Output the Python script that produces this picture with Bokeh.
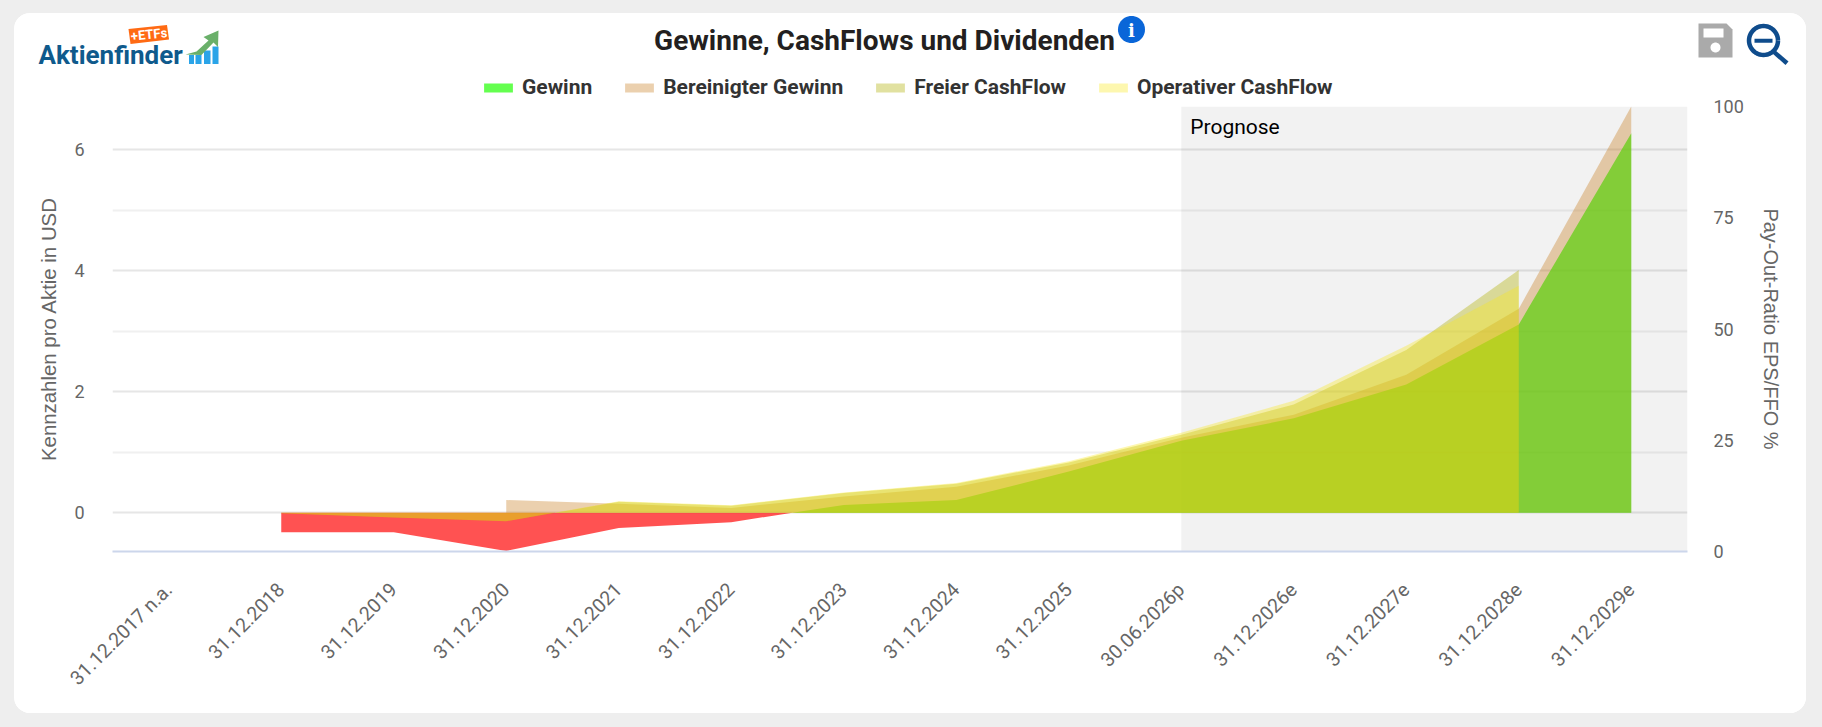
import math
import numpy as np
from bokeh.plotting import figure
from bokeh.core.properties import value
from bokeh.models import (Range1d, LinearAxis, FixedTicker, Label, Legend, LegendItem)
from bokeh.embed import file_html
from bokeh.resources import INLINE

# ---------- data ----------
categories = ["31.12.2017 n.a.", "31.12.2018", "31.12.2019", "31.12.2020", "31.12.2021",
              "31.12.2022", "31.12.2023", "31.12.2024", "31.12.2025", "30.06.2026p",
              "31.12.2026e", "31.12.2027e", "31.12.2028e", "31.12.2029e"]
gewinn = [None, -0.32, -0.32, -0.63, -0.25, -0.155, 0.13, 0.21, 0.68, 1.19, 1.56, 2.12, 3.11, 6.27]
bereinigt = [None, None, None, 0.21, 0.15, 0.08, 0.27, 0.43, 0.78, 1.24, 1.62, 2.28, 3.37, 6.71]
freier_cf = [None, -0.01, -0.08, -0.14, 0.18, 0.115, 0.325, 0.48, 0.83, 1.29, 1.79, 2.69, 4.01, None]
operativ_cf = [None, -0.01, -0.08, -0.14, 0.19, 0.125, 0.335, 0.49, 0.85, 1.32, 1.85, 2.76, 3.75, None]
left_ticks = [0, 2, 4, 6]
left_minor = [1, 3, 5]
right_ticks = [0, 25, 50, 75, 100]
forecast_start = 9

ROBOTO = "Roboto"
ARIAL = "Liberation Sans"
# card and frame geometry in page pixels
CARD_L, CARD_T, CARD_R, CARD_B = 14, 13, 1806, 713
FR_L, FR_T, FR_R, FR_B = 112, 106, 1687, 551
WIDTH = CARD_R - CARD_L
HEIGHT = CARD_B - CARD_T

GREEN = dict(fill_color="#1eff00", fill_alpha=0.69)
RED = dict(fill_color="#ff0000", fill_alpha=0.68)
TAN = dict(fill_color="#c67918", fill_alpha=0.35)
FCF = dict(fill_color="#b4b411", fill_alpha=0.4)
OCF = dict(fill_color="#f9e81a", fill_alpha=0.35)

idx = list(range(len(categories)))
# the chart lies transparent on top of the card figure below
p = figure(width=WIDTH, height=HEIGHT, output_backend="svg", toolbar_location=None,
           x_range=Range1d(-0.5, 13.5), y_range=Range1d(-0.64, 6.71),
           min_border_left=FR_L - CARD_L, min_border_right=CARD_R - FR_R,
           min_border_top=FR_T - CARD_T, min_border_bottom=CARD_B - FR_B,
           outline_line_color=None, border_fill_color=None, background_fill_color=None)
p.styles = {"position": "absolute", "left": f"{CARD_L}px", "top": f"{CARD_T}px"}

# ---------- axes ----------
xa = p.xaxis[0]
xa.ticker = FixedTicker(ticks=idx)
xa.major_label_overrides = {i: c for i, c in zip(idx, categories)}
xa.major_label_orientation = math.pi / 4
xa.major_label_text_font = ROBOTO
xa.major_label_text_font_size = "19.5px"
xa.major_label_text_color = "#666666"
xa.major_label_standoff = 35
xa.major_tick_out = 0
xa.major_tick_in = 0
xa.major_tick_line_color = None
xa.minor_tick_line_color = None
xa.axis_line_color = "#ccd6eb"
xa.axis_line_width = 2

ya = p.yaxis[0]
ya.ticker = FixedTicker(ticks=left_ticks, minor_ticks=left_minor)
ya.axis_label = "Kennzahlen pro Aktie in USD"
ya.axis_label_text_font = ARIAL
ya.axis_label_text_font_style = "normal"
ya.axis_label_text_font_size = "20.4px"
ya.axis_label_text_color = "#666666"
ya.axis_label_standoff = 11
ya.major_label_text_font = ROBOTO
ya.major_label_text_font_size = "18px"
ya.major_label_text_color = "#666666"
ya.major_label_standoff = 24
ya.major_tick_out = 0
ya.major_tick_in = 0
ya.major_tick_line_color = None
ya.minor_tick_line_color = None
ya.axis_line_color = None

p.xgrid.visible = False
p.ygrid.ticker = FixedTicker(ticks=left_ticks, minor_ticks=left_minor)
p.ygrid.grid_line_color = "#e6e6e6"
p.ygrid.grid_line_width = 2
p.ygrid.minor_grid_line_color = "#f0f0f0"
p.ygrid.minor_grid_line_width = 2

p.extra_y_ranges = {"payout": Range1d(0, 100)}
ra = LinearAxis(y_range_name="payout", ticker=FixedTicker(ticks=right_ticks))
ra.axis_label = "Pay-Out-Ratio EPS/FFO %"
ra.axis_label_text_font = ARIAL
ra.axis_label_text_font_style = "normal"
ra.axis_label_text_font_size = "20px"
ra.axis_label_text_color = "#666666"
ra.axis_label_standoff = 13
ra.major_label_text_font = ROBOTO
ra.major_label_text_font_size = "18px"
ra.major_label_text_color = "#666666"
ra.major_label_standoff = 26
ra.major_tick_out = 0
ra.major_tick_in = 0
ra.major_tick_line_color = None
ra.minor_tick_line_color = None
ra.axis_line_color = None
p.add_layout(ra, "right")

# ---------- forecast band ----------
p.quad(left=[forecast_start], right=[13.5], bottom=[-0.64], top=[6.71],
       fill_color="black", fill_alpha=0.05, line_color=None)


def valid(series):
    pts = [(i, v) for i, v in zip(idx, series) if v is not None]
    return [a for a, _ in pts], [b for _, b in pts]


def split_sign(xs, ys):
    """Insert the zero crossings so the sign parts can be coloured apart."""
    ox, oy = [], []
    for k in range(len(xs)):
        if k and ys[k - 1] * ys[k] < 0:
            f = ys[k - 1] / (ys[k - 1] - ys[k])
            ox.append(xs[k - 1] + f * (xs[k] - xs[k - 1]))
            oy.append(0.0)
        ox.append(xs[k])
        oy.append(ys[k])
    return np.array(ox, dtype=float), np.array(oy, dtype=float)


gx, gy = split_sign(*valid(gewinn))
pos = gy >= 0
neg = gy <= 0
p.varea(gx[pos], y1=0, y2=gy[pos], **GREEN)
p.varea(gx[neg], y1=0, y2=gy[neg], **RED)
bx, by = valid(bereinigt)
p.varea(bx, y1=0, y2=by, **TAN)
fx, fy = valid(freier_cf)
p.varea(fx, y1=0, y2=fy, **FCF)
ox, oy = valid(operativ_cf)
p.varea(ox, y1=0, y2=oy, **OCF)

p.add_layout(Label(x=forecast_start, y=6.71, y_offset=-20, x_offset=9, text="Prognose",
                   text_font=ROBOTO, text_font_size="21px", text_color="#000000",
                   text_baseline="middle"))

# ---------- card: logo, title, legend, icons, drawn in page pixels ----------
h = figure(width=WIDTH, height=HEIGHT, output_backend="svg", toolbar_location=None,
           x_range=Range1d(CARD_L, CARD_R), y_range=Range1d(CARD_B, CARD_T),
           x_axis_type=None, y_axis_type=None, min_border=0, outline_line_color=None,
           border_fill_color="white", background_fill_color="white")
h.styles = {"position": "absolute", "left": f"{CARD_L}px", "top": f"{CARD_T}px", "background": "white",
            "border-radius": "16px", "overflow": "hidden"}
h.grid.visible = False


def swatch(style):
    # legend key only: its area lies outside the card's visible range
    return h.varea(x=[-200, -100], y1=[0, 0], y2=[10, 10], **style)


legend = Legend(items=[LegendItem(label="Gewinn", renderers=[swatch(GREEN)]),
                       LegendItem(label="Bereinigter Gewinn", renderers=[swatch(TAN)]),
                       LegendItem(label="Freier CashFlow", renderers=[swatch(FCF)]),
                       LegendItem(label="Operativer CashFlow", renderers=[swatch(OCF)])],
                orientation="horizontal", location=(480 - CARD_L, CARD_B - 99), spacing=29, label_standoff=6,
                glyph_width=36, glyph_height=11, padding=0, margin=0,
                background_fill_alpha=0, border_line_color=None,
                label_text_font=ROBOTO, label_text_font_style="bold",
                label_text_font_size="21px", label_text_color="#333333",
                label_height=20)
h.add_layout(legend)


def text(px, py, s, size, color, font=ROBOTO, style="normal", align="left", angle=0):
    h.text([px], [py], text=[s], text_font=value(font), text_font_style=style,
           text_font_size=value(f"{size}px"), text_color=color, text_align=align,
           text_baseline="middle", angle=angle)


def poly(pts, fill):
    h.patch([a for a, _ in pts], [b for _, b in pts], fill_color=fill, line_color=None)


def circle(cx, cy, r, n=48):
    return [(cx + r * math.cos(2 * math.pi * i / n), cy + r * math.sin(2 * math.pi * i / n)) for i in range(n)]


text(884, 39.5, "Gewinne, CashFlows und Dividenden", 28, "#231f20", style="bold", align="center")

# info icon
poly(circle(1131, 29, 13.5), "#0a66d8")
text(1131, 29.5, "i", 18, "white", font="DejaVu Serif", style="bold", align="center")

# save icon
poly([(1698, 23), (1726, 23), (1732, 29), (1732, 57), (1698, 57)], "#aaaaaa")
poly([(1703, 28), (1723, 28), (1723, 37), (1703, 37)], "white")
poly(circle(1715, 47, 5), "white")

# zoom icon
ring = circle(1763, 40, 14.5)
h.line([a for a, _ in ring] + [ring[0][0]], [b for _, b in ring] + [ring[0][1]], line_color="#0f4c8c", line_width=4.5)
poly([(1754, 38.2), (1772, 38.2), (1772, 42.2), (1754, 42.2)], "#0f4c8c")
poly([(1775, 50), (1788, 61), (1785, 64.5), (1772, 53)], "#0f4c8c")

# logo
poly([(128, 28.5), (166.5, 24.5), (168.5, 39), (130, 43.5)], "#ff6a13")
text(148.5, 34, "+ETFs", 13, "white", style="bold", align="center", angle=0.1)
text(38, 54, "Aktienfinder", 26, "#0f5a8c", style="bold")
for bar in [(188.5, 54.5, 193.5), (195, 54.5, 201), (203.5, 50, 210), (212, 46, 218)]:
    poly([(bar[0], bar[1]), (bar[2], bar[1]), (bar[2], 63.5), (bar[0], 63.5)], "#2aa4e8")
poly([(185, 54), (196, 51), (208, 40), (203, 36.5), (218, 30), (217.5, 46.5), (213, 42), (201, 54.5)], "#6ab06a")

html = file_html([h, p], INLINE)
html = html.replace("<head>", "<head><style>html,body{background:#eeeeee;}</style>", 1)
open("out.html", "w").write(html)
